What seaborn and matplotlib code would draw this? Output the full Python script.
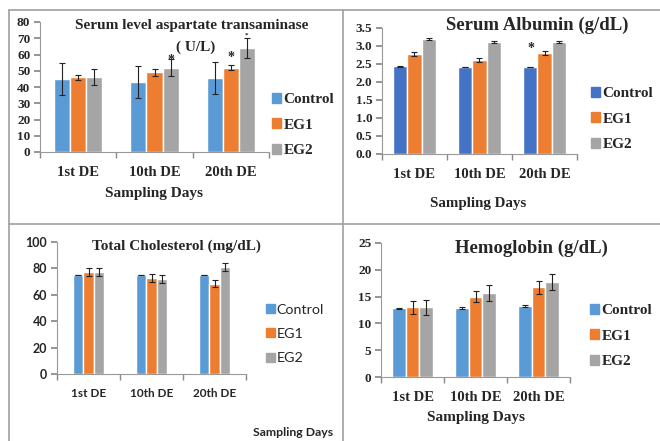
import numpy as np
import pandas as pd
import matplotlib
matplotlib.use("Agg")
import matplotlib.pyplot as plt
import seaborn as sns

# Data
days = ["1st DE", "10th DE", "20th DE"]
groups = ["Control", "EG1", "EG2"]

ast_control = [45, 43, 45.5]
ast_eg1 = [46, 49, 52]
ast_eg2 = [46, 52, 64]
ast_control_err = [10, 10, 10]
ast_eg1_err = [1.5, 2, 1.5]
ast_eg2_err = [5, 5, 6]

alb_control = [2.44, 2.42, 2.42]
alb_eg1 = [2.78, 2.61, 2.80]
alb_eg2 = [3.20, 3.10, 3.12]
alb_control_err = [0.01, 0.01, 0.01]
alb_eg1_err = [0.06, 0.06, 0.05]
alb_eg2_err = [0.03, 0.03, 0.03]

chol_control = [75, 75, 75]
chol_eg1 = [77, 72.5, 68.5]
chol_eg2 = [77, 72, 81]
chol_control_err = [0.3, 0.3, 0.3]
chol_eg1_err = [3, 3, 2.5]
chol_eg2_err = [3, 3, 3]

hb_control = [12.8, 12.9, 13.2]
hb_eg1 = [13, 15, 16.7]
hb_eg2 = [13, 15.6, 17.7]
hb_control_err = [0.15, 0.15, 0.2]
hb_eg1_err = [1.2, 1.0, 1.2]
hb_eg2_err = [1.4, 1.5, 1.5]

sns.set_theme(style="white")
plt.rcParams['font.family'] = ['Liberation Serif', 'DejaVu Sans']

W, H = 660, 441
fig = plt.figure(figsize=(6.6, 4.41), dpi=100)


def px_axes(left, right, top, bottom):
    return fig.add_axes([left / W, (H - bottom) / H, (right - left) / W, (bottom - top) / H])


def fig_text(x, y, s, **kw):
    fig.text(x / W, (H - y) / H, s, ha='center', va='center', **kw)


def draw_panel(ax, vals, errs, colors, ymax, ystep, width, tick_font, xsize, ysize):
    df = pd.DataFrame({
        'day': days * 3,
        'group': np.repeat(groups, 3),
        'value': vals[0] + vals[1] + vals[2],
    })
    sns.barplot(data=df, x='day', y='value', hue='group', order=days,
                hue_order=groups, palette=colors, errorbar=None,
                width=width, saturation=1, ax=ax, legend=False)
    err_all = errs[0] + errs[1] + errs[2]
    for bar, e in zip(ax.patches, err_all):
        cx = bar.get_x() + bar.get_width() / 2
        ax.errorbar(cx, bar.get_height(), yerr=e, fmt='none', ecolor='#222222',
                    elinewidth=0.8, capsize=2.5, capthick=0.8)
    ax.set_xlim(-0.5, 2.5)
    ax.set_ylim(0, ymax)
    ax.set_yticks(np.arange(0, ymax + ystep / 2, ystep))
    ax.set_xticks([0, 1, 2])
    ax.set_xticks([-0.5, 0.5, 1.5, 2.5], minor=True)
    ax.tick_params(axis='x', which='major', length=0, pad=10)
    ax.tick_params(axis='x', which='minor', length=4, color='#888888', direction='out', bottom=True)
    ax.tick_params(axis='y', length=4, color='#888888', direction='out', left=True, pad=3)
    for lab in ax.get_yticklabels():
        lab.set_fontfamily(tick_font)
        lab.set_fontsize(ysize)
        lab.set_fontweight('bold')
    for lab in ax.get_xticklabels():
        lab.set_fontfamily(tick_font)
        lab.set_fontsize(xsize)
        lab.set_fontweight('bold')
    for s in ['top', 'right']:
        ax.spines[s].set_visible(False)
    for s in ['left', 'bottom']:
        ax.spines[s].set_color('#999999')
        ax.spines[s].set_linewidth(0.8)
    ax.set_xlabel('')
    ax.set_ylabel('')
    ax.set_facecolor('white')


def draw_legend(ax, colors, x, y, font, size, weight, spacing):
    handles = [plt.Rectangle((0, 0), 1, 1, color=c) for c in colors]
    ax.legend(handles, groups, loc='center left',
              bbox_to_anchor=(x / W, (H - y) / H), bbox_transform=fig.transFigure,
              frameon=False, handlelength=0.6, handleheight=0.6, handletextpad=0.15,
              labelspacing=spacing, borderaxespad=0, borderpad=0,
              prop={'family': font, 'size': size, 'weight': weight})


excel = ['#5B9BD5', '#ED7D31', '#A5A5A5']
excel_dark = ['#4472C4', '#ED7D31', '#A5A5A5']

# Panel borders
border = dict(color='#a0a0a0', linewidth=1.2, transform=fig.transFigure)
fig.add_artist(plt.Line2D([9 / W, 1], [(H - 10) / H] * 2, **border))
fig.add_artist(plt.Line2D([9 / W, 9 / W], [0, (H - 10) / H], **border))
fig.add_artist(plt.Line2D([343 / W, 343 / W], [0, (H - 10) / H], **border))
fig.add_artist(plt.Line2D([9 / W, 1], [(H - 224) / H] * 2, **border))

# Top-left: AST
ax1 = px_axes(40, 269, 22, 152)
draw_panel(ax1, [ast_control, ast_eg1, ast_eg2],
           [ast_control_err, ast_eg1_err, ast_eg2_err],
           excel, 80, 10, 0.63, 'Liberation Serif', 10.5, 9.5)
draw_legend(ax1, excel, 272, 125, 'Liberation Serif', 11, 'bold', 0.8)
fig_text(192, 25, 'Serum level aspartate transaminase', fontsize=11, fontweight='bold')
fig_text(196, 47, '( U/L)', fontsize=11, fontweight='bold')
fig_text(154, 194, 'Sampling Days', fontsize=11, fontweight='bold')
ax1.text(1.21, 56.5, '*', ha='center', va='center', fontsize=10, fontweight='bold')
ax1.text(2.0, 58, '*', ha='center', va='center', fontsize=10, fontweight='bold')
ax1.text(2.21, 70.5, '*', ha='center', va='bottom', fontsize=5, fontweight='bold')

# Top-right: Albumin
ax2 = px_axes(382, 577, 28, 154)
draw_panel(ax2, [alb_control, alb_eg1, alb_eg2],
           [alb_control_err, alb_eg1_err, alb_eg2_err],
           excel_dark, 3.5, 0.5, 0.66, 'Liberation Serif', 10.5, 9.5)
draw_legend(ax2, excel_dark, 591, 119, 'Liberation Serif', 11, 'bold', 0.8)
fig_text(537, 25, 'Serum Albumin (g/dL)', fontsize=13.5, fontweight='bold')
fig_text(478, 203, 'Sampling Days', fontsize=10.8, fontweight='bold')
ax2.text(-0.21 + 2, 2.93, '*', ha='center', va='center', fontsize=10, fontweight='bold')

# Bottom-left: Cholesterol
ax3 = px_axes(57, 246, 242, 374)
draw_panel(ax3, [chol_control, chol_eg1, chol_eg2],
           [chol_control_err, chol_eg1_err, chol_eg2_err],
           excel, 100, 20, 0.5, 'Lato', 8.5, 9)
draw_legend(ax3, excel, 266, 334, 'Lato', 10.3, 'normal', 0.85)
fig_text(176, 246, 'Total Cholesterol (mg/dL)', fontsize=11, fontweight='bold')
fig_text(293, 432, 'Sampling Days', fontsize=8.8, fontweight='bold', family='Lato')

# Bottom-right: Hemoglobin
ax4 = px_axes(381, 570, 243, 377)
draw_panel(ax4, [hb_control, hb_eg1, hb_eg2],
           [hb_control_err, hb_eg1_err, hb_eg2_err],
           excel, 25, 5, 0.65, 'Liberation Serif', 10.5, 9.5)
draw_legend(ax4, excel, 590, 336, 'Liberation Serif', 11, 'bold', 0.8)
fig_text(531, 248, 'Hemoglobin (g/dL)', fontsize=13.5, fontweight='bold')
fig_text(476, 418, 'Sampling Days', fontsize=11, fontweight='bold')

fig.savefig('out.png', dpi=100, facecolor='white')
